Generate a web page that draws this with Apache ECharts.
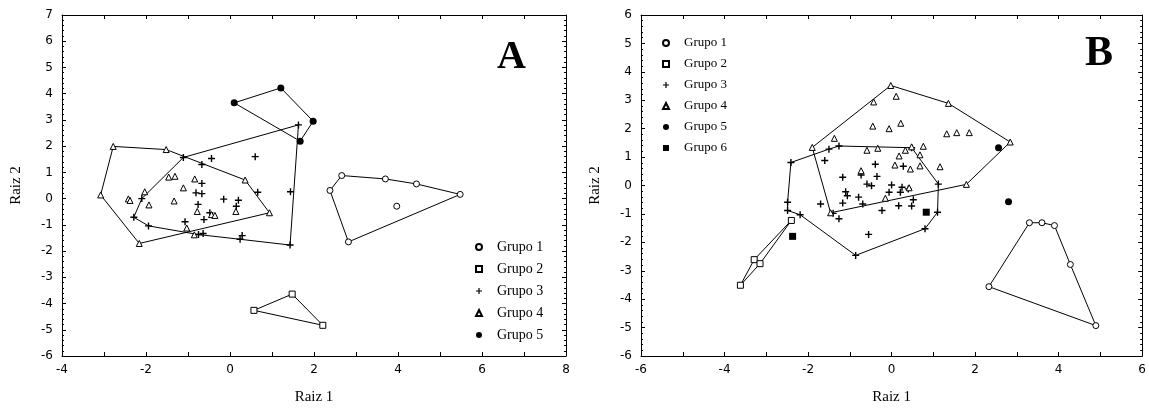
<!DOCTYPE html>
<html>
<head>
<meta charset="utf-8">
<script src="https://cdn.jsdelivr.net/npm/echarts@6/dist/echarts.min.js"></script>
<style>
  html, body { margin: 0; padding: 0; background: #fff; }
  #chart { width: 1149px; height: 410px; }
</style>
</head>
<body>
<div id="chart"></div>
<script>
// ---- panel A (Raiz 1 x Raiz 2) ----
var aG1Hull = [[2.38,0.31],[2.66,0.88],[3.70,0.75],[4.44,0.56],[5.48,0.16],[2.82,-1.65]];
var aG1In = [[3.97,-0.29]];
var aG2Hull = [[0.57,-4.26],[1.48,-3.64],[2.21,-4.83]];
var aG3Hull = [[1.63,2.81],[1.43,-1.77],[0.24,-1.55],[-0.75,-1.37],[-1.94,-1.04],[-2.29,-0.71],[-2.10,0.0],[-1.11,1.57]];
var aG3In = [[-0.44,1.53],[0.60,1.60],[-0.67,1.30],[-0.67,0.58],[-0.81,0.22],[-0.67,0.19],[-0.15,-0.02],[0.20,-0.06],[0.15,-0.29],
             [-0.76,-0.22],[-0.48,-0.54],[-0.62,-0.80],[-1.07,-0.88],[0.66,0.24],[1.44,0.26],[0.29,-1.41],[-0.64,-1.33]];
var aG4Hull = [[-2.78,1.99],[-1.52,1.87],[0.36,0.71],[0.94,-0.54],[-2.16,-1.71],[-3.08,0.14]];
var aG4In = [[-2.42,-0.01],[-2.38,-0.07],[-2.03,0.26],[-1.93,-0.24],[-1.46,0.82],[-1.31,0.85],[-1.11,0.41],[-1.33,-0.09],
             [-0.84,0.75],[-0.78,-0.49],[-0.44,-0.61],[-0.36,-0.64],[0.14,-0.49],[-1.03,-1.12],[-0.85,-1.38]];
var aG5Hull = [[0.10,3.65],[1.21,4.22],[1.98,2.95],[1.67,2.19]];

// ---- panel B ----
var bG1Hull = [[2.33,-3.56],[3.30,-1.31],[3.60,-1.31],[3.90,-1.41],[4.28,-2.78],[4.89,-4.93]];
var bG2Hull = [[-3.62,-3.51],[-3.29,-2.61],[-2.40,-1.23],[-3.15,-2.75]];
var bG3Hull = [[-2.41,0.81],[-1.50,1.28],[-1.26,1.39],[0.48,1.33],[1.12,0.05],[1.10,-0.94],[0.80,-1.52],[-0.86,-2.46],
               [-2.19,-1.03],[-2.49,-0.88],[-2.49,-0.59]];
var bG3In = [[-1.60,0.88],[-0.39,0.75],[-1.17,0.29],[-0.73,0.37],[-0.35,0.32],[-0.59,0.05],[-0.48,-0.01],[0.0,0.02],
             [-1.10,-0.22],[-1.06,-0.36],[-0.79,-0.41],[-0.69,-0.65],[-1.17,-0.62],[-1.70,-0.65],[-0.23,-0.88],[-1.26,-1.17],
             [-0.55,-1.72],[-0.06,-0.24],[0.28,0.68],[0.25,-0.06],[0.21,-0.24],[0.40,-0.12],[0.52,-0.50],[0.17,-0.71],
             [0.48,-0.72],[-1.40,-0.98]];
var bG4Hull = [[-0.02,3.52],[1.36,2.89],[2.84,1.53],[1.79,0.04],[-1.46,-0.96],[-1.90,1.34]];
var bG4In = [[-0.43,2.94],[0.11,3.14],[-1.37,1.66],[-0.45,2.09],[-0.06,2.00],[0.22,2.19],[1.32,1.82],[1.56,1.86],[1.86,1.86],
             [-0.59,1.24],[-0.33,1.31],[0.48,1.36],[0.76,1.38],[0.33,1.24],[0.18,1.04],[0.68,1.08],[0.08,0.72],[0.45,0.58],
             [0.68,0.69],[1.16,0.66],[-0.73,0.52],[-0.15,-0.45],[0.42,-0.08]];
var bG5 = [[2.56,1.33],[2.80,-0.57]];
var bG6 = [[-2.37,-1.79],[0.83,-0.94]];

var groupNames = ['Grupo 1','Grupo 2','Grupo 3','Grupo 4','Grupo 5','Grupo 6'];

var plusPath = 'path://M4,0H6V4H10V6H6V10H4V6H0V4H4Z';
var marks = {
  'Grupo 1': { symbol: 'circle', size: 6, fill: '#fff' },
  'Grupo 2': { symbol: 'rect', size: 6, fill: '#fff' },
  'Grupo 3': { symbol: plusPath, size: 7, fill: '#000' },
  'Grupo 4': { symbol: 'triangle', size: 6, fill: '#fff' },
  'Grupo 5': { symbol: 'circle', size: 7, fill: '#000' },
  'Grupo 6': { symbol: 'rect', size: 7, fill: '#000' }
};

function closeRing(pts) { return pts.concat([pts[0]]); }

function hullSeries(pts, xi, yi) {
  return {
    name: 'hull', type: 'line', xAxisIndex: xi, yAxisIndex: yi,
    data: closeRing(pts), symbol: 'none', silent: true, z: 1,
    lineStyle: { color: '#000', width: 1 }
  };
}
function pointSeries(name, pts, xi, yi) {
  var m = marks[name];
  return {
    name: name, type: 'scatter', xAxisIndex: xi, yAxisIndex: yi,
    data: pts, symbol: m.symbol, symbolSize: m.size, z: 3,
    itemStyle: { color: m.fill, borderColor: '#000', borderWidth: m.fill === '#fff' ? 1 : 0, opacity: 1 }
  };
}

var labelFont = { fontFamily: 'DejaVu Sans', fontSize: 12, color: '#000' };
var nameFont = { fontFamily: 'Liberation Serif', fontSize: 15, color: '#000' };
var frameLine = { onZero: false, lineStyle: { color: '#000', width: 1 } };

function xAxes(gi, min, max) {
  return [
    { type: 'value', gridIndex: gi, min: min, max: max, interval: 1, position: 'bottom',
      name: 'Raiz 1', nameLocation: 'middle', nameGap: 34, nameTextStyle: nameFont,
      axisLine: frameLine,
      axisTick: { inside: true, length: 4, lineStyle: { color: '#000' } },
      axisLabel: Object.assign({ margin: 8, formatter: function (v) { return v % 2 === 0 ? String(v) : ''; } }, labelFont),
      splitLine: { show: false } },
    { type: 'value', gridIndex: gi, min: min, max: max, interval: 1, position: 'top',
      axisLine: frameLine,
      axisTick: { inside: true, length: 4, lineStyle: { color: '#000' } },
      axisLabel: { show: false }, splitLine: { show: false } }
  ];
}
function yAxes(gi, min, max) {
  var tick = { inside: true, length: 4, lineStyle: { color: '#000' } };
  var minor = { show: true, splitNumber: 5, length: 2, lineStyle: { color: '#000' } };
  return [
    { type: 'value', gridIndex: gi, min: min, max: max, interval: 1, position: 'left',
      name: 'Raiz 2', nameLocation: 'middle', nameGap: 38, nameTextStyle: nameFont,
      axisLine: frameLine,
      axisTick: tick, minorTick: minor,
      axisLabel: Object.assign({ margin: 9 }, labelFont), splitLine: { show: false } },
    { type: 'value', gridIndex: gi, min: min, max: max, interval: 1, position: 'right',
      axisLine: frameLine,
      axisTick: tick, minorTick: minor,
      axisLabel: { show: false }, splitLine: { show: false } }
  ];
}

var legendText = { fontFamily: 'Liberation Serif', color: '#000', padding: [0, 0, 0, 10], lineHeight: 16 };

var series = [
  hullSeries(aG1Hull, 0, 0), hullSeries(aG2Hull, 0, 0), hullSeries(aG3Hull, 0, 0),
  hullSeries(aG4Hull, 0, 0), hullSeries(aG5Hull, 0, 0),
  pointSeries('Grupo 1', aG1Hull.concat(aG1In), 0, 0),
  pointSeries('Grupo 2', aG2Hull, 0, 0),
  pointSeries('Grupo 3', aG3Hull.concat(aG3In), 0, 0),
  pointSeries('Grupo 4', aG4Hull.concat(aG4In), 0, 0),
  pointSeries('Grupo 5', aG5Hull, 0, 0),

  hullSeries(bG1Hull, 2, 2), hullSeries(bG2Hull, 2, 2), hullSeries(bG3Hull, 2, 2), hullSeries(bG4Hull, 2, 2),
  pointSeries('Grupo 1', bG1Hull, 2, 2),
  pointSeries('Grupo 2', bG2Hull, 2, 2),
  pointSeries('Grupo 3', bG3Hull.concat(bG3In), 2, 2),
  pointSeries('Grupo 4', bG4Hull.concat(bG4In), 2, 2),
  pointSeries('Grupo 5', bG5, 2, 2),
  pointSeries('Grupo 6', bG6, 2, 2)
];

var chart = echarts.init(document.getElementById('chart'));
chart.setOption({
  animation: false,
  backgroundColor: '#fff',
  grid: [
    { left: 62, top: 15, width: 504, height: 343 },
    { left: 641, top: 15, width: 504, height: 343 }
  ],
  xAxis: xAxes(0, -4, 8).concat(xAxes(1, -6, 6)),
  yAxis: yAxes(0, -6, 7).concat(yAxes(1, -6, 6)),
  legend: [
    { data: groupNames.slice(0, 5), orient: 'vertical', left: 470, top: 234, itemWidth: 6, itemHeight: 6,
      itemGap: 6, selectedMode: false, textStyle: Object.assign({ fontSize: 14 }, legendText) },
    { data: groupNames, orient: 'vertical', left: 657, top: 30, itemWidth: 6, itemHeight: 6,
      itemGap: 5, selectedMode: false, textStyle: Object.assign({ fontSize: 13 }, legendText) }
  ],
  graphic: [
    { type: 'text', left: 497, top: 38, style: { text: 'A', fontFamily: 'Liberation Serif', fontWeight: 'bold', fontSize: 40, fill: '#000' } },
    { type: 'text', left: 1085, top: 33, style: { text: 'B', fontFamily: 'Liberation Serif', fontWeight: 'bold', fontSize: 42, fill: '#000' } }
  ],
  series: series
});
</script>
</body>
</html>
